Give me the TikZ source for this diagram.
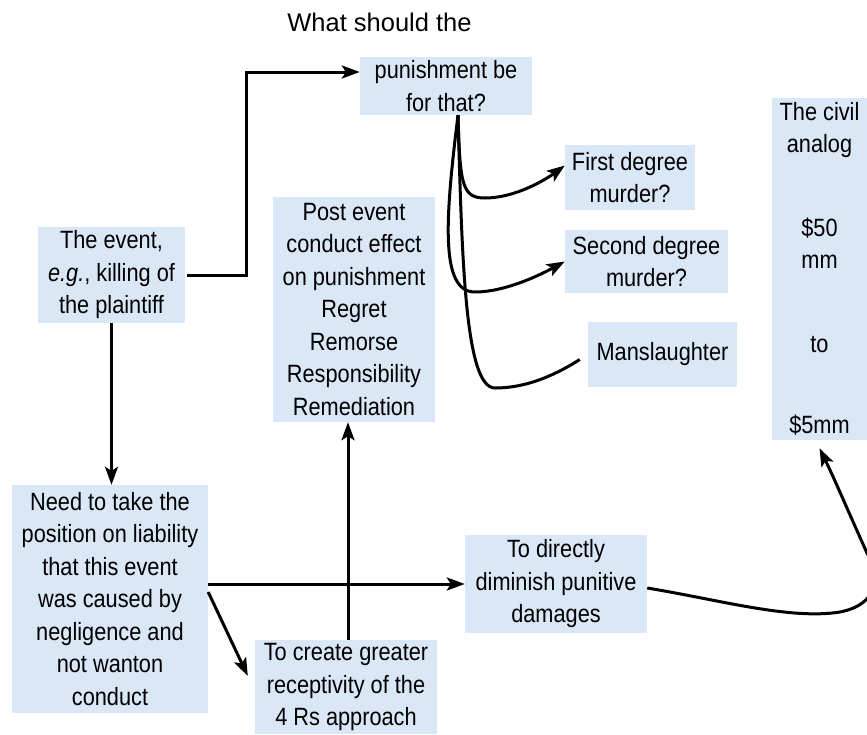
\documentclass[tikz,border=0pt]{standalone}
\usepackage{fontspec}
\setmainfont{Liberation Sans}
\newfontfamily\boxfont[FakeStretch=0.87]{Liberation Sans}
\usetikzlibrary{arrows.meta}
\definecolor{boxblue}{RGB}{218,231,246}
\begin{document}
\begin{tikzpicture}[x=1pt,y=-1pt,
  box/.style={fill=boxblue, inner sep=0pt, align=center, font=\boxfont\fontsize{25}{32.5}\selectfont},
  arr/.style={line width=3pt, -{Stealth[length=18pt,width=13pt,inset=4pt]}},
  ln/.style={line width=3pt},
  titletext/.style={font=\fontsize{25.5}{30}\selectfont}]
\useasboundingbox (0,0) rectangle (867,734);
\node[titletext] (title) at (379.5,22) {What should the};
\node[box, minimum width=172pt, minimum height=58pt] (pun) at (446,86) {punishment be\\for that?};
\node[box, minimum width=147pt, minimum height=96pt] (event) at (111.5,275) {The event,\\\textit{e.g.}, killing of\\the plaintiff};
\node[box, minimum width=162pt, minimum height=225pt] (post) at (354,309.5) {Post event\\conduct effect\\on punishment\\Regret\\Remorse\\Responsibility\\Remediation};
\node[box, minimum width=130pt, minimum height=65pt] (first) at (630,177.5) {First degree\\murder?};
\node[box, minimum width=163pt, minimum height=63pt] (second) at (646.5,261.5) {Second degree\\murder?};
\node[box, minimum width=149pt, minimum height=65pt] (man) at (662.5,354.5) {Manslaughter};
\node[box, minimum width=95pt, minimum height=342pt] (civil) at (819.5,269) {The civil\\analog\\[51pt]\$50\\mm\\[51pt]to\\[49pt]\$5mm};
\node[box, minimum width=196pt, minimum height=228pt] (need) at (110,599) {Need to take the\\position on liability\\that this event\\was caused by\\negligence and\\not wanton\\conduct};
\node[box, minimum width=182pt, minimum height=94pt] (create) at (346,687) {To create greater\\receptivity of the\\4 Rs approach};
\node[box, minimum width=182pt, minimum height=98pt] (dim) at (556,584) {To directly\\diminish punitive\\damages};

\draw[arr] ([xshift=2pt]event.east) -- ++(59,0) |- ([yshift=14pt]pun.west);
\draw[arr] (event.south) -- (event.south |- need.north);
\coordinate (pb) at ([xshift=12pt]pun.south);
\draw[arr] (pb) .. controls (460,185) and (462,198) .. (485,198) .. controls (515,198) and (545,180) .. ([yshift=12pt]first.west);
\draw[arr] (pb) .. controls (445,220) and (440,292) .. (475,292) .. controls (505,292) and (540,275) .. (second.west);
\draw[ln] (pb) .. controls (462,260) and (465,388) .. (495,388) .. controls (530,388) and (560,372) .. ([shift={(-8pt,-5pt)}]man.west);
\draw[arr] (need.east |- dim.west) -- (dim.west);
\draw[arr] ([yshift=7pt]need.east) -- ([shift={(-7pt,11pt)}]create.west);
\draw[arr] ([xshift=2pt]create.north) -- ([xshift=2pt]create.north |- post.south);
\draw[arr] ([yshift=-4pt]dim.east) .. controls (720,600) and (790,620) .. (840,612) .. controls (880,604) and (880,575) .. (867,553) .. controls (852,520) and (835,480) .. ([yshift=-8pt]civil.south);
\end{tikzpicture}
\end{document}
